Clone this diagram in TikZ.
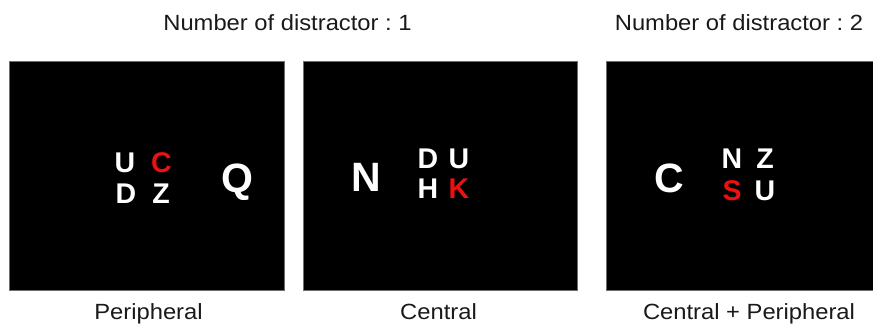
\documentclass[tikz,border=0pt]{standalone}
\usepackage{fontspec}
\setmainfont{Liberation Sans}
\frenchspacing
\definecolor{tred}{RGB}{236,16,16}
\definecolor{edge}{RGB}{110,110,110}
\tikzset{
  panel/.style={fill=black,draw=edge,line width=0.8pt},
  caption/.style={inner sep=0pt,anchor=base,xscale=1.08,font=\fontsize{22}{26}\selectfont,text=black!90},
  small/.style={inner sep=0pt,anchor=base,text=white,font=\fontsize{28.5}{30}\selectfont\bfseries},
  big/.style={inner sep=0pt,anchor=base,text=white,font=\fontsize{41}{44}\selectfont\bfseries},
  target/.style={text=tred}
}
\begin{document}
\begin{tikzpicture}[x=1pt,y=-1pt]
\useasboundingbox (0,0) rectangle (873,325);
% titles
\node[caption] (t1) at (287.5,30) {Number of distractor : 1};
\node[caption] (t2) at (739,30) {Number of distractor : 2};
% panels
\path[panel] (9,61) rectangle (284,290);
\path[panel] (303,61) rectangle (577,290);
\path[panel] (606,61) rectangle (875,290);
% panel 1 : peripheral
\node[small] (p1u) at (125,172.7) {U};
\node[small,target] (p1c) at (161.5,172.7) {C};
\node[small] (p1d) at (126,203) {D};
\node[small] (p1z) at (161,203) {Z};
\node[big] (p1q) at (237,192.5) {Q};
% panel 2 : central
\node[big] (p2n) at (366.7,191.7) {N};
\node[small] (p2d) at (428,168.3) {D};
\node[small] (p2u) at (459,168.3) {U};
\node[small] (p2h) at (428,198) {H};
\node[small,target] (p2k) at (459,198) {K};
% panel 3 : central + peripheral
\node[big] (p3c) at (669,192.5) {C};
\node[small] (p3n) at (732,168) {N};
\node[small] (p3z) at (765,168) {Z};
\node[small,target] (p3s) at (732,200.5) {S};
\node[small] (p3u) at (765,200.5) {U};
% captions
\node[caption] (c1) at (148.5,319.5) {Peripheral};
\node[caption] (c2) at (438.5,319.5) {Central};
\node[caption] (c3) at (749,319.5) {Central + Peripheral};
\end{tikzpicture}
\end{document}
